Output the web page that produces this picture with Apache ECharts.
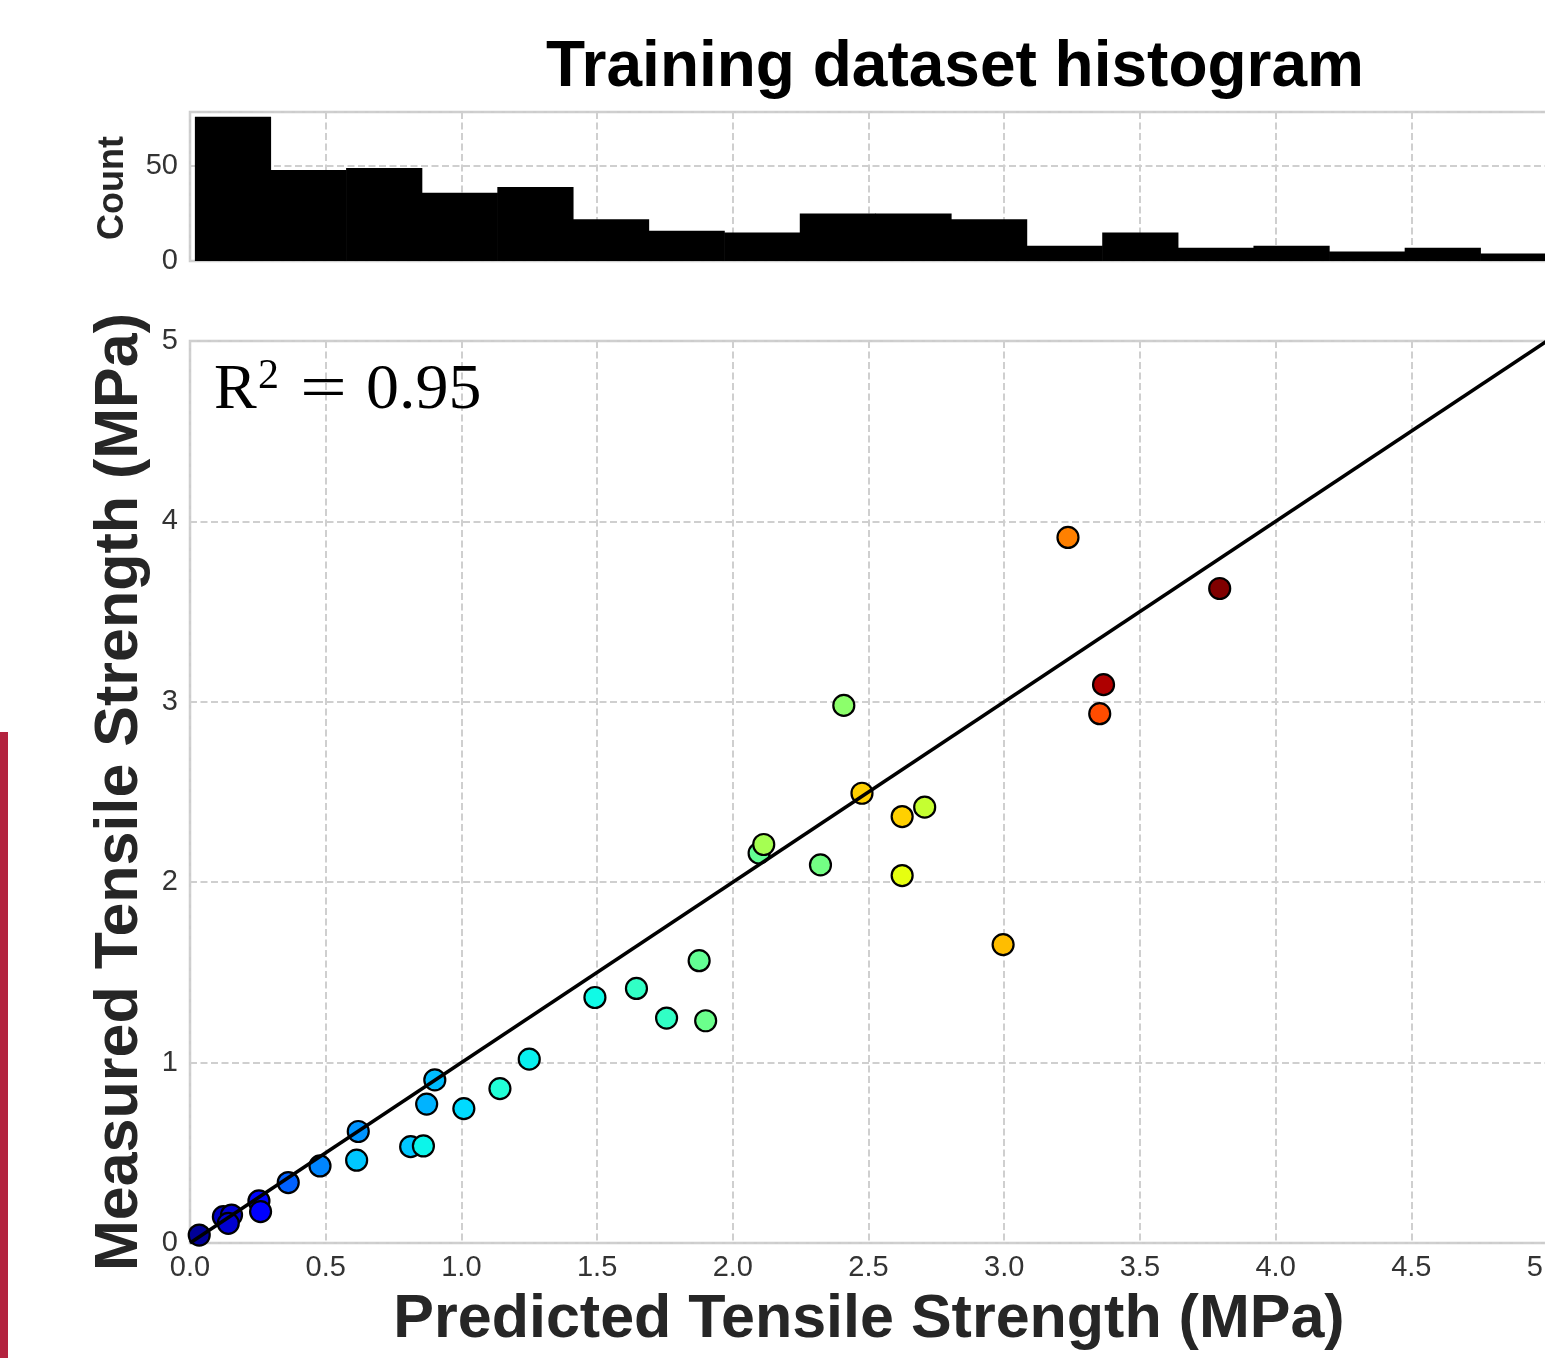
<!DOCTYPE html>
<html><head><meta charset="utf-8">
<style>html,body{margin:0;padding:0;overflow:hidden;background:#fff;width:1545px;height:1358px}#c{width:1560px;height:1358px;position:absolute;left:0;top:0}</style>
<script src="https://cdn.jsdelivr.net/npm/echarts@6/dist/echarts.min.js"></script>
</head><body><div id="c"></div>
<script>
// ---- data ----
const predicted = [0.034,0.123,0.153,0.141,0.254,0.260,0.362,0.479,0.614,0.620,0.813,0.860,0.872,0.902,1.009,1.142,1.250,1.492,1.645,1.756,1.876,1.900,2.097,2.114,2.323,2.409,2.476,2.624,2.707,2.624,2.996,3.235,3.352,3.366,3.794];
const measured  = [0.044,0.146,0.155,0.109,0.233,0.174,0.335,0.427,0.459,0.618,0.534,0.538,0.770,0.904,0.745,0.856,1.019,1.361,1.411,1.247,1.565,1.232,2.161,2.209,2.096,2.980,2.493,2.364,2.416,2.037,1.654,3.911,2.934,3.095,3.628];
const colorValue = [0.02,0.06,0.07,0.07,0.13,0.11,0.22,0.255,0.32,0.27,0.32,0.365,0.30,0.31,0.34,0.39,0.36,0.37,0.41,0.41,0.47,0.48,0.47,0.55,0.49,0.52,0.69,0.69,0.59,0.63,0.71,0.775,0.83,0.96,1.0];
const histCounts = [76,48,49,36,39,22,16,15,25,25,22,8,15,7,8,5,7,4];
const histStart = 0.018;
const histBinWidth = 0.2786;
const identityLine = [[0,0],[5,5]];
const r2Text = '0.95';

// ---- jet colormap ----
function seg(v, pts){
  for (let i=1;i<pts.length;i++){
    if (v<=pts[i][0]){
      const [x0,y0]=pts[i-1],[x1,y1]=pts[i];
      return y0+(y1-y0)*(v-x0)/(x1-x0);
    }
  }
  return pts[pts.length-1][1];
}
function jet(v){
  v=Math.max(0,Math.min(1,v));
  const r=seg(v,[[0,0],[0.35,0],[0.66,1],[0.89,1],[1,0.5]]);
  const g=seg(v,[[0,0],[0.125,0],[0.375,1],[0.64,1],[0.91,0],[1,0]]);
  const b=seg(v,[[0,0.5],[0.11,1],[0.34,1],[0.65,0],[1,0]]);
  return 'rgb('+Math.round(r*255)+','+Math.round(g*255)+','+Math.round(b*255)+')';
}

const scatterData = predicted.map((x,i)=>[x, measured[i], colorValue[i]]);
const histData = histCounts.map((c,i)=>[histStart+i*histBinWidth, histStart+(i+1)*histBinWidth, c]);

const FONT = '"Liberation Sans", Arial, Helvetica, sans-serif';
const SERIF = '"Liberation Serif", "Times New Roman", serif';
const gridLine = {show:true, lineStyle:{color:'#cfcfcf', width:2, type:[7,3.5]}};
const L = 190, W = 1357;

const chart = echarts.init(document.getElementById('c'), null, {renderer:'canvas', width:1560, height:1358});
chart.setOption({
  animation:false,
  backgroundColor:'#ffffff',
  grid:[
    {left:L, width:W, top:112, height:149, outerBoundsMode:'none', containLabel:false, show:true, borderColor:'#cccccc', borderWidth:2.5, backgroundColor:'#fff'},
    {left:L, width:W, top:341, height:902, outerBoundsMode:'none', containLabel:false, show:true, borderColor:'#cccccc', borderWidth:2.5, backgroundColor:'#fff'}
  ],
  xAxis:[
    {gridIndex:0, type:'value', min:0, max:5, interval:0.5, axisLine:{show:false}, axisTick:{show:false}, axisLabel:{show:false}, splitLine:gridLine},
    {gridIndex:1, type:'value', min:0, max:5, interval:0.5, axisLine:{show:false}, axisTick:{show:false},
     axisLabel:{show:true, margin:10, fontSize:29, color:'#333333', fontFamily:FONT, formatter:v=>v.toFixed(1)}, splitLine:gridLine}
  ],
  yAxis:[
    {gridIndex:0, type:'value', min:0, max:78.5, interval:50, axisLine:{show:false}, axisTick:{show:false},
     axisLabel:{show:true, margin:12, fontSize:29, color:'#333333', fontFamily:FONT, showMaxLabel:false}, splitLine:gridLine},
    {gridIndex:1, type:'value', min:0, max:5, interval:1, axisLine:{show:false}, axisTick:{show:false},
     axisLabel:{show:true, margin:12, fontSize:29, color:'#333333', fontFamily:FONT}, splitLine:gridLine}
  ],
  series:[
    {type:'custom', xAxisIndex:0, yAxisIndex:0, data:histData, clip:true,
     renderItem:function(params, api){
       const p0 = api.coord([api.value(0), api.value(2)]);
       const p1 = api.coord([api.value(1), 0]);
       return {type:'rect', shape:{x:p0[0], y:p0[1], width:p1[0]-p0[0]+0.6, height:p1[1]-p0[1]}, style:{fill:'#000'}};
     },
     encode:{x:[0,1], y:2}, z:3},
    {type:'scatter', xAxisIndex:1, yAxisIndex:1, data:scatterData, symbol:'circle', symbolSize:21,
     itemStyle:{color:p=>jet(p.data[2]), borderColor:'#000', borderWidth:2.2, opacity:1}, z:3},
    {type:'line', xAxisIndex:1, yAxisIndex:1, data:identityLine, symbol:'none', lineStyle:{color:'#000', width:3.5}, z:5, silent:true}
  ],
  graphic:[
    {type:'text', z:10, position:[955,68], style:{text:'Training dataset histogram', font:'bold 64px '+FONT, fill:'#000', textAlign:'center', textVerticalAlign:'middle'}},
    {type:'text', z:10, rotation:Math.PI/2, position:[113,188], style:{text:'Count', font:'bold 36px '+FONT, fill:'#262626', textAlign:'center', textVerticalAlign:'middle'}},
    {type:'text', z:10, rotation:Math.PI/2, position:[120,792], style:{text:'Measured Tensile Strength (MPa)', font:'bold 61px '+FONT, fill:'#262626', textAlign:'center', textVerticalAlign:'middle'}},
    {type:'text', z:10, position:[869,1320], style:{text:'Predicted Tensile Strength (MPa)', font:'bold 61px '+FONT, fill:'#262626', textAlign:'center', textVerticalAlign:'middle'}},
    {type:'text', z:10, position:[214,391], style:{text:'R', font:'64px '+SERIF, fill:'#000', textAlign:'left', textVerticalAlign:'middle'}},
    {type:'text', z:10, position:[258,377], style:{text:'2', font:'42px '+SERIF, fill:'#000', textAlign:'left', textVerticalAlign:'middle'}},
    {type:'text', z:10, position:[300,391], scaleX:1.3, style:{text:'=', font:'64px '+SERIF, fill:'#000', textAlign:'left', textVerticalAlign:'middle'}},
    {type:'text', z:10, position:[366,391], scaleX:1.03, style:{text:r2Text, font:'64px '+SERIF, fill:'#000', textAlign:'left', textVerticalAlign:'middle'}},
    {type:'rect', z:10, shape:{x:0, y:732, width:8, height:640}, style:{fill:'#b3233f'}}
  ]
});
</script></body></html>
